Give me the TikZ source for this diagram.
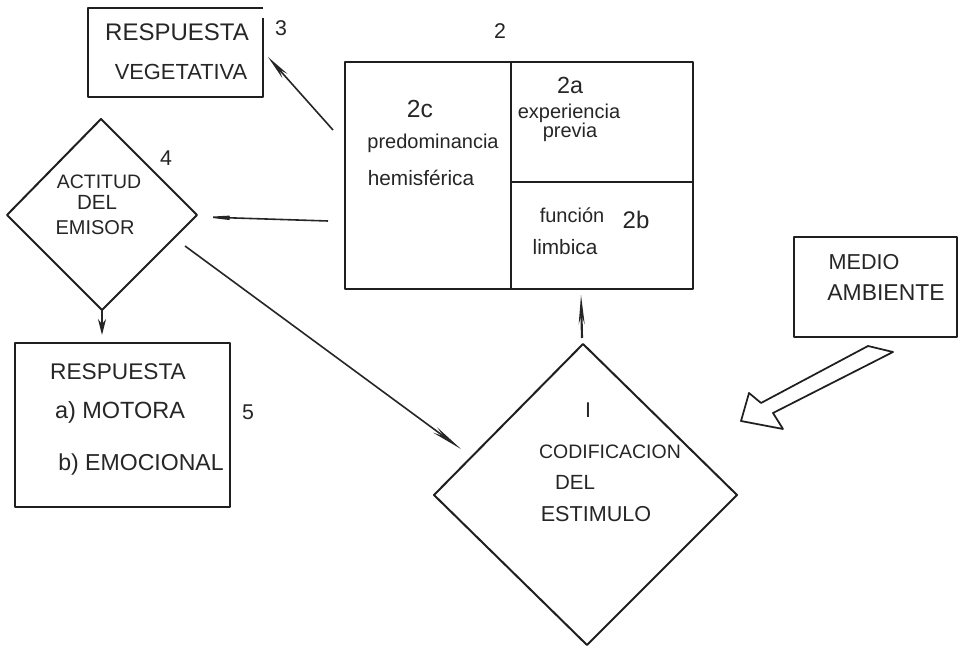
\documentclass[tikz,border=0pt]{standalone}
\usepackage{fontspec}
\setmainfont{Liberation Sans}
\usetikzlibrary{arrows.meta}
\tikzset{
 box/.style={draw=black!88,line width=1.5pt,line join=round,fill=none},
 txt/.style={font=\fontsize{#1}{#1}\selectfont,text=black!85,inner sep=0pt},
 arr/.style={draw=black!85,line width=1.2pt},
}
\begin{document}
\begin{tikzpicture}[x=0.75pt,y=-0.75pt]
\useasboundingbox (0,0) rectangle (963,648);
\fill[white] (0,0) rectangle (963,648);
% boxes
\draw[box] (263,8) -- (88,8) -- (88,97) -- (263,97) -- (263,18);
\draw[box] (345,62) rectangle (693,289);
\draw[box] (511,62) -- (511,289);
\draw[box] (511,182) -- (693,182);
\draw[box] (794,237) rectangle (957,337);
\draw[box] (15,343) rectangle (230,507);
\draw[box] (101,119) -- (197,215) -- (102,310) -- (7,215) -- cycle;
\draw[box] (583,344) -- (737,495) -- (587,645) -- (434,495) -- cycle;
% connector ends
\coordinate (a3s) at (333,130); \coordinate (a3e) at (268,57);
\coordinate (a4s) at (328,221); \coordinate (a4e) at (204,217);
\coordinate (a5s) at (102,310); \coordinate (a5e) at (102,335);
\coordinate (a1s) at (185,246); \coordinate (a1e) at (461,449);
\coordinate (a2s) at (582,338); \coordinate (a2e) at (581,295);
\draw[arr,-{Stealth[length=19pt,width=5pt]}] (a3s) -- (a3e);
\draw[arr,-{Stealth[length=26pt,width=4.5pt]}] (a4s) -- (a4e);
\draw[arr,-{Stealth[length=12pt,width=6pt]}] (a5s) -- (a5e);
\draw[arr,-{Stealth[length=24pt,width=5pt]}] (a1s) -- (a1e);
\draw[arr,line width=1.6pt,-{Stealth[length=22pt,width=4.5pt]}] (a2s) -- (a2e);
% hollow arrow
\draw[box,line width=1.3pt] (868,346) -- (893,352) -- (773,413) -- (783,429) -- (741,421) -- (749,393) -- (761,403) -- cycle;
% text
\node[txt=18] (t3a) at (177,32) {RESPUESTA};
\node[txt=16.4] (t3b) at (181,72) {VEGETATIVA};
\node[txt=16] (n3) at (281,28) {3};
\node[txt=16] (n2) at (500,31) {2};
\node[txt=16] (n4) at (166,158) {4};
\node[txt=16] (n5) at (248,412) {5};
\node[txt=18.5] (n2c) at (420,109) {2c};
\node[txt=15] (t2c1) at (433,143) {predominancia};
\node[txt=15.6] (t2c2) at (421,178) {hemisférica};
\node[txt=17.5] (n2a) at (570,85) {2a};
\node[txt=15] (t2a1) at (569,113) {experiencia};
\node[txt=15] (t2a2) at (570,132) {previa};
\node[txt=15] (t2b1) at (572,215) {función};
\node[txt=18] (n2b) at (636,220) {2b};
\node[txt=15.6] (t2b2) at (565,247) {limbica};
\node[txt=14.6] (t4a) at (99,182) {ACTITUD};
\node[txt=15.4] (t4b) at (97,202) {DEL};
\node[txt=15] (t4c) at (95,228) {EMISOR};
\node[txt=17] (t5a) at (118,372) {RESPUESTA};
\node[txt=17.6] (t5b) at (120,412) {a) MOTORA};
\node[txt=17.3] (t5c) at (141,465) {b) EMOCIONAL};
\node[txt=16.2] (tma) at (864,262) {MEDIO};
\node[txt=17.2] (tmb) at (886,293) {AMBIENTE};
\node[txt=16] (n1) at (588,410) {I};
\node[txt=14.6] (t1a) at (610,452) {CODIFICACION};
\node[txt=15.4] (t1b) at (575,482) {DEL};
\node[txt=16.2] (t1c) at (596,514) {ESTIMULO};
\end{tikzpicture}
\end{document}
